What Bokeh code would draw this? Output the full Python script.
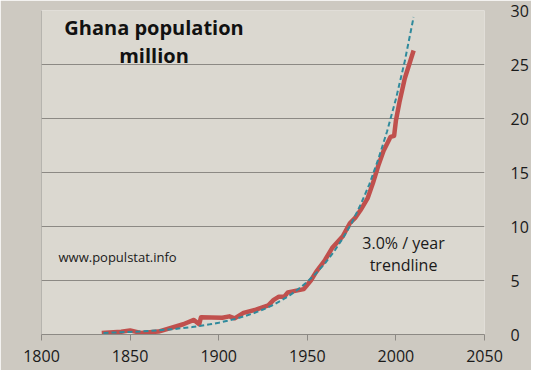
from bokeh.plotting import figure
from bokeh.models import Range1d, LinearAxis, Label, Span, FixedTicker
from bokeh.embed import file_html
from bokeh.resources import INLINE

# Ghana population (million)
pop_years = [1834, 1845, 1850, 1856, 1866, 1880, 1886, 1889, 1890, 1902, 1906, 1909,
             1914, 1921, 1928, 1931, 1934, 1937, 1939, 1948, 1952, 1955, 1960, 1964,
             1970, 1974, 1977, 1980, 1984, 1987, 1990, 1993, 1997, 1999, 2000, 2002,
             2005, 2010]
pop_values = [0.15, 0.25, 0.38, 0.15, 0.27, 0.95, 1.35, 0.95, 1.6, 1.55, 1.68, 1.5,
              2.0, 2.3, 2.7, 3.2, 3.5, 3.5, 3.9, 4.2, 5.0, 5.8, 6.9, 8.0,
              9.1, 10.3, 10.8, 11.5, 12.6, 14.0, 15.6, 17.0, 18.3, 18.4, 19.8, 21.5,
              23.7, 26.3]

# 3.0% / year trendline
trend_years = [1835, 1840, 1845, 1850, 1855, 1860, 1865, 1870, 1875, 1880, 1885, 1890,
               1895, 1900, 1905, 1910, 1915, 1920, 1925, 1930, 1935, 1940, 1945, 1950,
               1955, 1960, 1965, 1970, 1975, 1980, 1985, 1990, 1995, 2000, 2005, 2010]
trend_values = [0.15, 0.18, 0.21, 0.24, 0.28, 0.33, 0.38, 0.44, 0.51, 0.60, 0.69, 0.81,
                0.94, 1.09, 1.27, 1.47, 1.71, 1.99, 2.31, 2.68, 3.12, 3.62, 4.21, 4.88,
                5.67, 6.59, 7.66, 8.89, 10.3, 12.0, 13.9, 16.2, 18.8, 21.8, 25.3, 29.4]

x_ticks = [1800, 1850, 1900, 1950, 2000, 2050]
y_ticks = [0, 5, 10, 15, 20, 25, 30]

FONT = "Open Sans"
GRID = "#8c8984"

p = figure(width=531, height=370, output_backend="svg", toolbar_location=None,
           x_range=Range1d(1800, 2050), y_range=Range1d(0, 30),
           min_border_left=41, min_border_right=40, min_border_top=10, min_border_bottom=36,
           background_fill_color="#dbd8d0", border_fill_color="#cdc9c1",
           outline_line_color=None)

p.yaxis.visible = False
ry = LinearAxis(ticker=FixedTicker(ticks=y_ticks))
ry.axis_line_color = None
ry.major_tick_line_color = None
ry.minor_tick_line_color = None
ry.major_label_standoff = 20
ry.major_label_text_font = FONT
ry.major_label_text_font_size = "16px"
ry.major_label_text_color = "#1a1a1a"
p.add_layout(ry, "right")

p.xaxis.ticker = FixedTicker(ticks=x_ticks)
p.xaxis.axis_line_color = GRID
p.xaxis.major_tick_line_color = GRID
p.xaxis.major_tick_out = 6
p.xaxis.major_tick_in = 0
p.xaxis.minor_tick_line_color = None
p.xaxis.major_label_standoff = 9
p.xaxis.major_label_text_font = FONT
p.xaxis.major_label_text_font_size = "16px"
p.xaxis.major_label_text_color = "#1a1a1a"

p.xgrid.grid_line_color = None
p.ygrid.ticker = FixedTicker(ticks=y_ticks)
p.ygrid.grid_line_color = GRID

p.add_layout(Span(location=1800, dimension="height", line_color=GRID, line_width=1))

p.line(pop_years, pop_values, line_color="#c0504d", line_width=4.5, line_join="round")
p.line(trend_years, trend_values, line_color="#2f8a9c", line_width=2, line_dash="5 3")

for txt, y in [("Ghana population", 28.4), ("million", 25.8)]:
    p.add_layout(Label(x=1863.5, y=y, text=txt, text_align="center", text_baseline="middle",
                       text_font=FONT, text_font_style="bold", text_font_size="20px",
                       text_color="#111111"))

p.add_layout(Label(x=1809.6, y=7.16, text="www.populstat.info", text_align="left",
                   text_baseline="middle", text_font=FONT, text_font_size="13px",
                   text_color="#1a1a1a"))

for txt, y in [("3.0% / year", 8.47), ("trendline", 6.43)]:
    p.add_layout(Label(x=2004.3, y=y, text=txt, text_align="center", text_baseline="middle",
                       text_font=FONT, text_font_size="16px", text_color="#1a1a1a"))

open("out.html", "w").write(file_html(p, INLINE))
